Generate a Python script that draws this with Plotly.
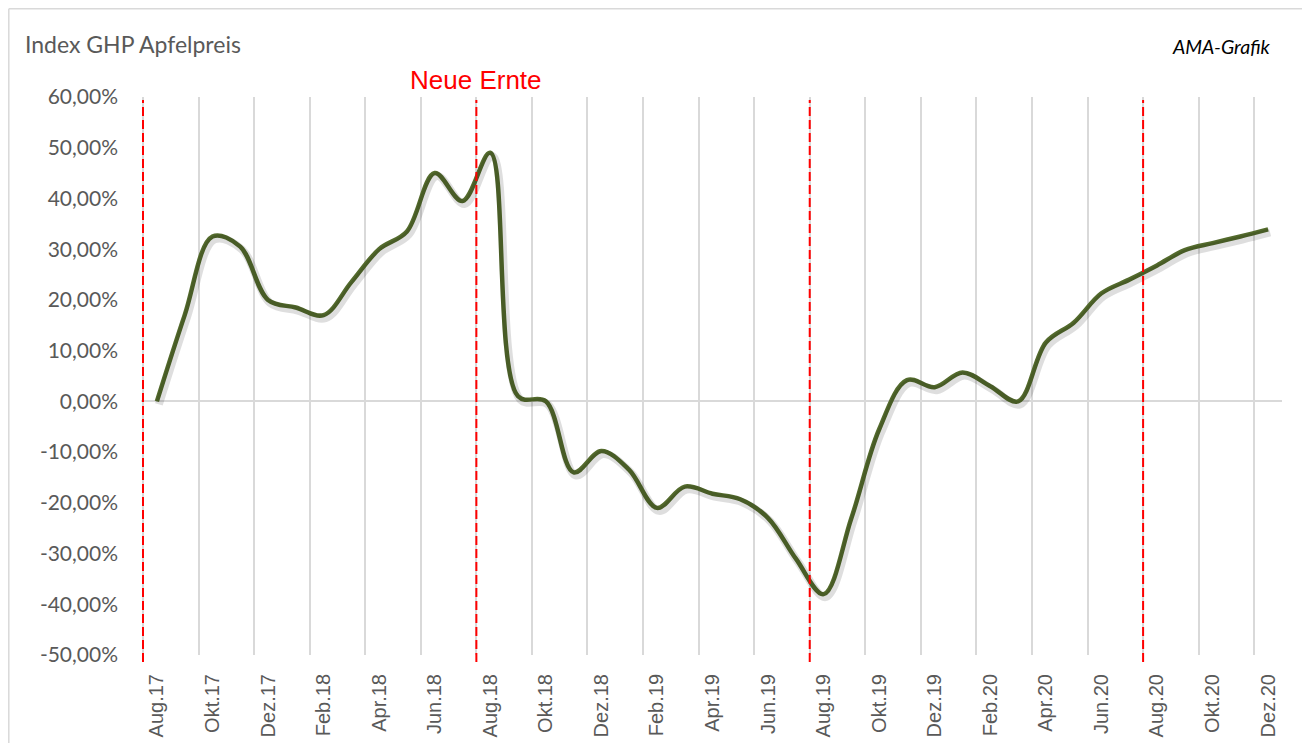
"""Index GHP Apfelpreis: monthly price index line, Aug.17 - Dez.20."""

import plotly.graph_objects as go

months = [
    "Aug.17", "Sep.17", "Okt.17", "Nov.17", "Dez.17",
    "Jan.18", "Feb.18", "Mär.18", "Apr.18", "Mai.18", "Jun.18", "Jul.18",
    "Aug.18", "Sep.18", "Okt.18", "Nov.18", "Dez.18",
    "Jan.19", "Feb.19", "Mär.19", "Apr.19", "Mai.19", "Jun.19", "Jul.19",
    "Aug.19", "Sep.19", "Okt.19", "Nov.19", "Dez.19",
    "Jan.20", "Feb.20", "Mär.20", "Apr.20", "Mai.20", "Jun.20", "Jul.20",
    "Aug.20", "Sep.20", "Okt.20", "Nov.20", "Dez.20",
]
index_pct = [
    0.0, 17.0, 32.5, 30.5, 20.0,
    18.5, 17.0, 23.5, 30.0, 33.5, 45.0, 39.5,
    49.0, 1.0, 0.0, -14.0, -9.8,
    -13.5, -21.0, -16.8, -18.2, -19.3, -23.0, -31.0,
    -38.0, -23.0, -5.5, 4.2, 2.8,
    5.7, 3.0, 0.0, 11.6, 15.5, 21.3, 24.0,
    26.8, 29.8, 31.2, 32.5, 33.9,
]
harvest_months = ["Aug.17", "Aug.18", "Aug.19", "Aug.20"]

y_ticks = [60, 50, 40, 30, 20, 10, 0, -10, -20, -30, -40, -50]
y_ticktext = ["60,00%", "50,00%", "40,00%", "30,00%", "20,00%", "10,00%",
              "0,00%", "-10,00%", "-20,00%", "-30,00%", "-40,00%", "-50,00%"]

x = list(range(len(months)))
tick_idx = x[::2]

GREY = "#595959"
GRID = "#d9d9d9"

# page body adds 8px, so figure is 1294x735 with plot area 143..1282 / 97..655
W, H = 1294, 735
L, R, T, B = 133, 20, 89, 88
plot_w = W - L - R
plot_h = H - T - B
px_unit = (len(months)) / 1139.0          # x units per pixel
x_range = [-0.5 - 2 * px_unit, len(months) - 0.5]
y_range = [-50, 60]
px_x = (x_range[1] - x_range[0]) / plot_w
px_y = (y_range[1] - y_range[0]) / plot_h


def px_to_paper_x(p):
    return (p - 8 - L) / plot_w


def px_to_paper_y(q):
    return (H - B + 8 - q) / plot_h


fig = go.Figure()

# soft shadow under the line
fig.add_trace(go.Scatter(
    x=x, y=index_pct, mode="lines", xaxis="x2", yaxis="y2",
    line=dict(color="rgba(0,0,0,0.13)", width=8, shape="spline"),
    hoverinfo="skip", showlegend=False,
))
fig.add_trace(go.Scatter(
    x=x, y=index_pct, mode="lines",
    line=dict(color="#536a2c", width=4.5, shape="spline"),
    showlegend=False,
))

# harvest markers at month boundaries
for m in harvest_months:
    pos = months.index(m) - 0.5
    fig.add_shape(type="line", xref="x", yref="paper", x0=pos, x1=pos,
                  y0=px_to_paper_y(662), y1=px_to_paper_y(100), layer="above",
                  line=dict(color="#ff0000", width=2, dash="9px,4px"))

# chart frame (as close to the page corner as the figure allows)
fx, fy = px_to_paper_x(8.8), px_to_paper_y(8.8)
fig.add_shape(type="line", xref="paper", yref="paper",
              x0=fx, x1=1.1, y0=fy, y1=fy, line=dict(color=GRID, width=1.5))
fig.add_shape(type="line", xref="paper", yref="paper",
              x0=fx, x1=fx, y0=-0.3, y1=fy, line=dict(color=GRID, width=1.5))

fig.add_annotation(text="Index GHP Apfelpreis", xref="paper", yref="paper",
                   x=px_to_paper_x(23), y=px_to_paper_y(44),
                   xanchor="left", yanchor="middle", showarrow=False,
                   font=dict(family="Lato", size=23, color=GREY))
fig.add_annotation(text="<i>AMA-Grafik</i>", xref="paper", yref="paper",
                   x=px_to_paper_x(1273), y=px_to_paper_y(47),
                   xanchor="right", yanchor="middle", showarrow=False,
                   font=dict(family="Lato", size=19.5, color="#000000"))
fig.add_annotation(text="Neue Ernte", xref="x", yref="paper",
                   x=months.index("Aug.18") - 0.5, y=px_to_paper_y(80),
                   xanchor="center", yanchor="middle", showarrow=False,
                   font=dict(family="Liberation Sans", size=26, color="#ff0000"))

fig.update_layout(
    width=W, height=H,
    margin=dict(l=L, r=R, t=T, b=B, autoexpand=False),
    paper_bgcolor="white", plot_bgcolor="white",
    xaxis=dict(
        range=x_range, tickmode="array", tickvals=tick_idx,
        ticktext=[months[i] for i in tick_idx], tickangle=-90,
        showgrid=False, zeroline=False, showline=False, ticks="",
        ticklabelstandoff=14, automargin=False,
        tickfont=dict(family="Liberation Sans", size=20, color=GREY),
        minor=dict(tickmode="linear", tick0=1.5, dtick=2, showgrid=True,
                   gridcolor=GRID, gridwidth=1.5, ticks=""),
    ),
    yaxis=dict(
        range=y_range, tickmode="array", tickvals=y_ticks, ticktext=y_ticktext,
        showgrid=False, zeroline=True, zerolinecolor=GRID, zerolinewidth=1.5,
        showline=False, ticks="", ticklabelstandoff=22, automargin=False,
        tickfont=dict(family="Lato", size=21, color=GREY),
    ),
    xaxis2=dict(range=[x_range[0] - 2 * px_x, x_range[1] - 2 * px_x],
                overlaying="x", visible=False),
    yaxis2=dict(range=[y_range[0] + 3 * px_y, y_range[1] + 3 * px_y],
                overlaying="y", visible=False),
)

fig.write_html("out.html")
